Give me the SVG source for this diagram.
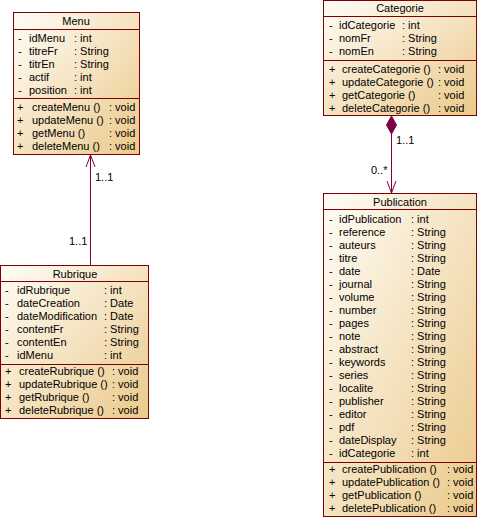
<svg xmlns="http://www.w3.org/2000/svg" width="478" height="518" viewBox="0 0 478 518">
<defs>
<linearGradient id="g" x1="0" y1="0" x2="1" y2="1">
<stop offset="0" stop-color="#FFFDF8"/>
<stop offset="1" stop-color="#EBC98A"/>
</linearGradient>
<style>
.box{fill:url(#g);stroke:#800000;stroke-width:1}
.sep{stroke:#800000;stroke-width:1}
text{font-family:"Liberation Sans",Arial,sans-serif;font-size:11px;fill:#000}
.t{text-anchor:middle}
.c{stroke:#800040;stroke-width:1;fill:none}
.l{font-size:10px}
</style>
</defs>
<g id="connectors">
<line class="c" x1="90.5" y1="155" x2="90.5" y2="265"/>
<polyline class="c" points="86,167 90.5,155 95,167"/>
<line class="c" x1="90.5" y1="155" x2="90.5" y2="167"/>
<text x="95" y="181">1..1</text>
<text x="69" y="245">1..1</text>
<line class="c" x1="391.5" y1="134" x2="391.5" y2="193"/>
<polygon points="391.5,116 396.5,125 391.5,134 386.5,125" fill="#800040" stroke="#800040"/>
<polyline class="c" points="387,181 391.5,193 396,181"/>
<text x="396" y="144">1..1</text>
<text x="371" y="174">0..*</text>
</g>
<g id="Menu">
<rect class="box" x="13.5" y="12.5" width="126" height="142"/>
<line class="sep" x1="13.5" y1="29.5" x2="139.5" y2="29.5"/>
<line class="sep" x1="13.5" y1="98.5" x2="139.5" y2="98.5"/>
<text class="t" x="76" y="25">Menu</text>
<text x="18" y="42">-</text><text x="29" y="42">idMenu</text><text x="74" y="42">: int</text>
<text x="18" y="55">-</text><text x="29" y="55">titreFr</text><text x="74" y="55">: String</text>
<text x="18" y="68">-</text><text x="29" y="68">titrEn</text><text x="74" y="68">: String</text>
<text x="18" y="81">-</text><text x="29" y="81">actif</text><text x="74" y="81">: int</text>
<text x="18" y="94">-</text><text x="29" y="94">position</text><text x="74" y="94">: int</text>
<text x="17" y="111">+</text><text x="32" y="111">createMenu ()</text><text x="109" y="111">: void</text>
<text x="17" y="124">+</text><text x="32" y="124">updateMenu ()</text><text x="109" y="124">: void</text>
<text x="17" y="137">+</text><text x="32" y="137">getMenu ()</text><text x="109" y="137">: void</text>
<text x="17" y="150">+</text><text x="32" y="150">deleteMenu ()</text><text x="109" y="150">: void</text>
</g>
<g id="Categorie">
<rect class="box" x="323.5" y="0.5" width="153" height="115"/>
<line class="sep" x1="323.5" y1="16.5" x2="476.5" y2="16.5"/>
<line class="sep" x1="323.5" y1="60.5" x2="476.5" y2="60.5"/>
<text class="t" x="400" y="12">Categorie</text>
<text x="329" y="29">-</text><text x="339" y="29">idCategorie</text><text x="402" y="29">: int</text>
<text x="329" y="42">-</text><text x="339" y="42">nomFr</text><text x="402" y="42">: String</text>
<text x="329" y="55">-</text><text x="339" y="55">nomEn</text><text x="402" y="55">: String</text>
<text x="329" y="73">+</text><text x="342" y="73">createCategorie ()</text><text x="438" y="73">: void</text>
<text x="329" y="86">+</text><text x="342" y="86">updateCategorie ()</text><text x="438" y="86">: void</text>
<text x="329" y="99">+</text><text x="342" y="99">getCategorie ()</text><text x="438" y="99">: void</text>
<text x="329" y="112">+</text><text x="342" y="112">deleteCategorie ()</text><text x="438" y="112">: void</text>
</g>
<g id="Rubrique">
<rect class="box" x="0.5" y="265.5" width="148" height="153"/>
<line class="sep" x1="0.5" y1="281.5" x2="148.5" y2="281.5"/>
<line class="sep" x1="0.5" y1="364.5" x2="148.5" y2="364.5"/>
<text class="t" x="75" y="278">Rubrique</text>
<text x="5" y="294">-</text><text x="17" y="294">idRubrique</text><text x="104" y="294">: int</text>
<text x="5" y="307">-</text><text x="17" y="307">dateCreation</text><text x="104" y="307">: Date</text>
<text x="5" y="320">-</text><text x="17" y="320">dateModification</text><text x="104" y="320">: Date</text>
<text x="5" y="333">-</text><text x="17" y="333">contentFr</text><text x="104" y="333">: String</text>
<text x="5" y="346">-</text><text x="17" y="346">contentEn</text><text x="104" y="346">: String</text>
<text x="5" y="359">-</text><text x="17" y="359">idMenu</text><text x="104" y="359">: int</text>
<text x="5" y="375">+</text><text x="19" y="375">createRubrique ()</text><text x="112" y="375">: void</text>
<text x="5" y="388">+</text><text x="19" y="388">updateRubrique ()</text><text x="112" y="388">: void</text>
<text x="5" y="401">+</text><text x="19" y="401">getRubrique ()</text><text x="112" y="401">: void</text>
<text x="5" y="414">+</text><text x="19" y="414">deleteRubrique ()</text><text x="112" y="414">: void</text>
</g>
<g id="Publication">
<rect class="box" x="323.5" y="193.5" width="153" height="323"/>
<line class="sep" x1="323.5" y1="209.5" x2="476.5" y2="209.5"/>
<line class="sep" x1="323.5" y1="462.5" x2="476.5" y2="462.5"/>
<text class="t" x="400" y="206">Publication</text>
<text x="329" y="223">-</text><text x="339" y="223">idPublication</text><text x="411" y="223">: int</text>
<text x="329" y="236">-</text><text x="339" y="236">reference</text><text x="411" y="236">: String</text>
<text x="329" y="249">-</text><text x="339" y="249">auteurs</text><text x="411" y="249">: String</text>
<text x="329" y="262">-</text><text x="339" y="262">titre</text><text x="411" y="262">: String</text>
<text x="329" y="275">-</text><text x="339" y="275">date</text><text x="411" y="275">: Date</text>
<text x="329" y="288">-</text><text x="339" y="288">journal</text><text x="411" y="288">: String</text>
<text x="329" y="301">-</text><text x="339" y="301">volume</text><text x="411" y="301">: String</text>
<text x="329" y="314">-</text><text x="339" y="314">number</text><text x="411" y="314">: String</text>
<text x="329" y="327">-</text><text x="339" y="327">pages</text><text x="411" y="327">: String</text>
<text x="329" y="340">-</text><text x="339" y="340">note</text><text x="411" y="340">: String</text>
<text x="329" y="353">-</text><text x="339" y="353">abstract</text><text x="411" y="353">: String</text>
<text x="329" y="366">-</text><text x="339" y="366">keywords</text><text x="411" y="366">: String</text>
<text x="329" y="379">-</text><text x="339" y="379">series</text><text x="411" y="379">: String</text>
<text x="329" y="392">-</text><text x="339" y="392">localite</text><text x="411" y="392">: String</text>
<text x="329" y="405">-</text><text x="339" y="405">publisher</text><text x="411" y="405">: String</text>
<text x="329" y="418">-</text><text x="339" y="418">editor</text><text x="411" y="418">: String</text>
<text x="329" y="431">-</text><text x="339" y="431">pdf</text><text x="411" y="431">: String</text>
<text x="329" y="444">-</text><text x="339" y="444">dateDisplay</text><text x="411" y="444">: String</text>
<text x="329" y="457">-</text><text x="339" y="457">idCategorie</text><text x="411" y="457">: int</text>
<text x="329" y="473">+</text><text x="342" y="473">createPublication ()</text><text x="447" y="473">: void</text>
<text x="329" y="486">+</text><text x="342" y="486">updatePublication ()</text><text x="447" y="486">: void</text>
<text x="329" y="499">+</text><text x="342" y="499">getPublication ()</text><text x="447" y="499">: void</text>
<text x="329" y="512">+</text><text x="342" y="512">deletePublication ()</text><text x="447" y="512">: void</text>
</g>
</svg>
